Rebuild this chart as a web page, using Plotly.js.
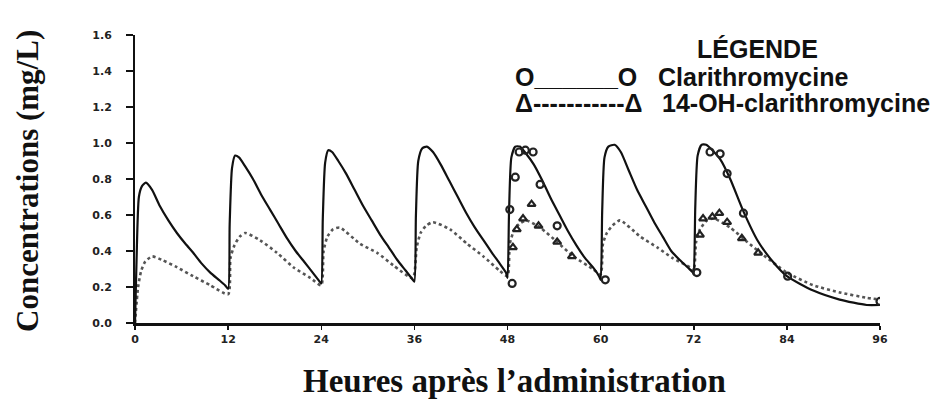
<!DOCTYPE html>
<html>
<head>
<meta charset="utf-8">
<script src="https://cdn.plot.ly/plotly-3.0.1.min.js"></script>
<style>html,body{margin:0;padding:0;background:#fff;}#chart{width:936px;height:402px;}</style>
</head>
<body>
<div id="chart"></div>
<script>
// Clarithromycine fitted curve (hours, mg/L)
const clarT = [
  0, 0.2, 0.5, 0.9, 1.4, 2.2, 3.2, 4.3, 5.4, 6.5, 7.5, 8.6, 9.7, 10.8, 11.6,
  12.0, 12.2, 12.5, 12.9, 13.4, 14.2, 15.2, 16.3, 17.4, 18.5, 19.6, 20.7, 21.8, 22.9, 23.8,
  24.0, 24.2, 24.5, 24.9, 25.4, 26.2, 27.2, 28.3, 29.4, 30.5, 31.6, 32.7, 33.8, 34.9, 35.8,
  36.0, 36.2, 36.5, 37.0, 37.6, 38.4, 39.4, 40.5, 41.6, 42.7, 43.8, 44.9, 46.0, 47.0, 47.8,
  48.0, 48.2, 48.5, 49.0, 49.6, 50.4, 51.4, 52.5, 53.6, 54.7, 55.8, 56.9, 58.0, 59.0, 59.8,
  60.0, 60.2, 60.5, 61.0, 61.8, 62.6, 63.6, 64.7, 65.8, 66.9, 68.0, 69.1, 70.2, 71.2, 71.9,
  72.0, 72.2, 72.5, 73.0, 73.6, 74.4, 75.4, 76.7, 78.4, 80.2, 82.2, 84.0, 87.4, 90.8, 94.3, 96
];
const clarC = [
  0, 0.35, 0.70, 0.76, 0.78, 0.74, 0.65, 0.57, 0.50, 0.44, 0.39, 0.33, 0.28, 0.24, 0.21,
  0.19, 0.55, 0.86, 0.93, 0.92, 0.87, 0.80, 0.71, 0.63, 0.55, 0.47, 0.40, 0.34, 0.28, 0.23,
  0.22, 0.58, 0.89, 0.96, 0.95, 0.90, 0.83, 0.74, 0.65, 0.57, 0.49, 0.42, 0.35, 0.29, 0.24,
  0.23, 0.60, 0.90, 0.97, 0.98, 0.95, 0.88, 0.79, 0.70, 0.61, 0.53, 0.46, 0.39, 0.33, 0.28,
  0.25, 0.62, 0.92, 0.98, 0.98, 0.94, 0.88, 0.79, 0.69, 0.60, 0.51, 0.43, 0.36, 0.31, 0.26,
  0.24, 0.62, 0.92, 0.98, 0.99, 0.95, 0.85, 0.74, 0.65, 0.56, 0.48, 0.40, 0.35, 0.31, 0.28,
  0.27, 0.65, 0.93, 0.99, 0.99, 0.96, 0.91, 0.80, 0.62, 0.46, 0.34, 0.26, 0.18, 0.13, 0.10, 0.10
];
// 14-OH-clarithromycine fitted curve
const ohT = [
  0, 0.4, 0.8, 1.3, 2.2, 3.5, 5.4, 7.5, 9.7, 12.0,
  12.3, 12.8, 13.5, 14.2, 16.1, 18.3, 20.4, 22.6, 24.0,
  24.3, 24.8, 25.5, 26.4, 29.0, 31.2, 33.3, 35.8,
  36.3, 36.8, 37.5, 38.4, 40.6, 42.8, 44.9, 47.0, 48.0,
  48.3, 48.8, 49.5, 50.4, 52.2, 54.4, 56.5, 59.0, 60.0,
  60.3, 60.8, 61.5, 62.5, 65.1, 67.3, 69.3, 71.5, 72.0,
  72.3, 72.8, 73.7, 74.6, 76.7, 78.9, 80.9, 84.0, 87.4, 90.8, 94.3, 96
];
const ohC = [
  0, 0.20, 0.29, 0.34, 0.37, 0.35, 0.31, 0.26, 0.21, 0.16,
  0.36, 0.43, 0.48, 0.50, 0.46, 0.39, 0.31, 0.25, 0.21,
  0.40, 0.48, 0.52, 0.53, 0.44, 0.39, 0.32, 0.25,
  0.42, 0.50, 0.54, 0.56, 0.52, 0.44, 0.37, 0.29, 0.26,
  0.44, 0.51, 0.55, 0.57, 0.53, 0.45, 0.37, 0.30, 0.27,
  0.44, 0.50, 0.54, 0.57, 0.48, 0.42, 0.36, 0.31, 0.29,
  0.45, 0.52, 0.57, 0.58, 0.53, 0.45, 0.38, 0.28, 0.21, 0.17, 0.14, 0.13
];
// Observed points
const clarObsT = [48.6, 48.3, 49.0, 49.5, 50.3, 51.3, 52.2, 54.4, 60.6, 72.4, 74.1, 75.4, 76.3, 78.4, 84.1, 96];
const clarObsC = [0.22, 0.63, 0.81, 0.95, 0.96, 0.95, 0.77, 0.54, 0.24, 0.28, 0.95, 0.94, 0.83, 0.61, 0.26, 0.12];
const ohObsT = [48.7, 49.2, 50.0, 51.1, 52.0, 54.4, 56.3, 72.8, 73.2, 74.4, 75.3, 76.3, 78.2, 80.3];
const ohObsC = [0.42, 0.52, 0.58, 0.66, 0.54, 0.45, 0.37, 0.49, 0.58, 0.59, 0.61, 0.56, 0.47, 0.39];
// Axis ticks
const xTicks = [0, 12, 24, 36, 48, 60, 72, 84, 96];
const yTicks = [0, 0.2, 0.4, 0.6, 0.8, 1.0, 1.2, 1.4, 1.6];
const yTickText = ["0.0", "0.2", "0.4", "0.6", "0.8", "1.0", "1.2", "1.4", "1.6"];

const traces = [
  {x: ohT, y: ohC, mode: 'lines', line: {color: '#555', width: 2.6, dash: 'dot', shape: 'spline', smoothing: 0.6}, hoverinfo: 'skip'},
  {x: clarT, y: clarC, mode: 'lines', line: {color: '#111', width: 2.2, shape: 'spline', smoothing: 0.6}, hoverinfo: 'skip'},
  {x: ohObsT, y: ohObsC, mode: 'markers', marker: {symbol: 'triangle-up-open', size: 7, color: '#222', line: {width: 2.2, color: '#222'}}},
  {x: clarObsT, y: clarObsC, mode: 'markers', marker: {symbol: 'circle-open', size: 7, color: '#222', line: {width: 2.2, color: '#222'}}}
];

const annFontSans = {family: 'Liberation Sans, Arial, sans-serif', size: 25, color: '#111'};
const px = v => (v - 135) / 745;
const py = v => (323 - v) / 288;
const layout = {
  width: 936, height: 402,
  margin: {l: 135, r: 56, t: 35, b: 79},
  paper_bgcolor: '#fff', plot_bgcolor: '#fff',
  showlegend: false,
  xaxis: {
    range: [0, 96], tickvals: xTicks, ticktext: xTicks.map(String),
    showgrid: false, zeroline: false, showline: true, linecolor: '#111', linewidth: 2.5,
    ticks: 'outside', ticklen: 4, tickwidth: 1.5, tickcolor: '#111',
    tickfont: {family: 'DejaVu Sans, sans-serif', size: 11, color: '#222', weight: 'bold'}
  },
  yaxis: {
    range: [0, 1.6], tickvals: yTicks, ticktext: yTickText,
    showgrid: false, zeroline: false, showline: true, linecolor: '#111', linewidth: 2,
    ticks: 'outside', ticklen: 7, tickwidth: 2, tickcolor: '#111', ticklabelstandoff: 12,
    tickfont: {family: 'DejaVu Sans, sans-serif', size: 11, color: '#222', weight: 'bold'}
  },
  annotations: [
    {xref: 'paper', yref: 'paper', x: px(757), y: py(49), xanchor: 'center', yanchor: 'middle', showarrow: false,
     text: '<b>LÉGENDE</b>', font: annFontSans},
    {xref: 'paper', yref: 'paper', x: px(513), y: py(77), xanchor: 'left', yanchor: 'middle', showarrow: false,
     text: '<b>O______O</b>', font: annFontSans},
    {xref: 'paper', yref: 'paper', x: px(656), y: py(77), xanchor: 'left', yanchor: 'middle', showarrow: false,
     text: '<b>Clarithromycine</b>', font: annFontSans},
    {xref: 'paper', yref: 'paper', x: px(513), y: py(103), xanchor: 'left', yanchor: 'middle', showarrow: false,
     text: '<b>Δ-----------Δ</b>', font: annFontSans},
    {xref: 'paper', yref: 'paper', x: px(660), y: py(103), xanchor: 'left', yanchor: 'middle', showarrow: false,
     text: '<b>14-OH-clarithromycine</b>', font: annFontSans},
    {xref: 'paper', yref: 'paper', x: px(514), y: py(381), xanchor: 'center', yanchor: 'middle', showarrow: false,
     text: '<b>Heures après l’administration</b>', font: {family: 'Liberation Serif, Times New Roman, serif', size: 33, color: '#111'}},
    {xref: 'paper', yref: 'paper', x: px(27), y: py(181), xanchor: 'center', yanchor: 'middle', showarrow: false, textangle: -90,
     text: '<b>Concentrations (mg/L)</b>', font: {family: 'Liberation Serif, Times New Roman, serif', size: 31, color: '#111'}}
  ]
};
Plotly.newPlot('chart', traces, layout, {displayModeBar: false, staticPlot: true});
</script>
</body>
</html>
